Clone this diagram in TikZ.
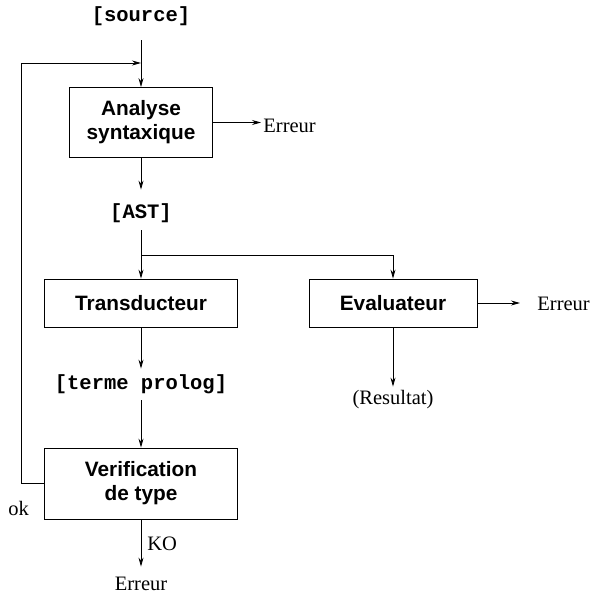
\documentclass[tikz,border=0pt]{standalone}
\usepackage{fontspec}
\setmainfont{Liberation Serif}
\setsansfont{Liberation Sans}
\setmonofont{Liberation Mono}
\usetikzlibrary{arrows.meta}

\begin{document}
\begin{tikzpicture}[x=1pt, y=-1pt, line width=0.8pt,
    >={Stealth[length=9pt, width=5pt, inset=3pt]},
    box/.style={draw, rectangle, inner sep=0pt, align=center, font=\sffamily\bfseries\fontsize{20.8}{24}\selectfont},
    tag/.style={inner sep=0pt, font=\ttfamily\bfseries\fontsize{20.5}{24}\selectfont},
    word/.style={inner sep=0pt, font=\fontsize{20.5}{24}\selectfont}]
    \useasboundingbox (0, 0) rectangle (594, 593);

    \node [tag, text height=12pt, text depth=18pt] (source) at (141, 25) {[source]};
    \node [box, minimum width=143pt, minimum height=70pt] (analyse) at (141, 122.5) {Analyse\\syntaxique};
    \node [word, anchor=base west] (erreurA) at (263, 133) {Erreur};
    \node [tag, text height=29pt, text depth=11pt] (ast) at (141, 210) {[AST]};
    \coordinate (fork) at (141, 255);

    \node [box, minimum width=193pt, minimum height=48pt] (transducteur) at (141, 303) {Transducteur};
    \node [box, minimum width=168pt, minimum height=48pt] (evaluateur) at (393, 303) {Evaluateur};
    \node [word, anchor=base west] (erreurB) at (537, 311) {Erreur};
    \node [tag, text height=20pt, text depth=11pt] (terme) at (141, 384.5) {[terme prolog]};
    \node [word, text height=17pt, text depth=5pt] (resultat) at (393, 398) {(Resultat)};

    \node [box, minimum width=193pt, minimum height=71pt] (verification) at (141, 483.5) {Verification\\de type};
    \node [word, text height=23pt, text depth=0pt] (erreurC) at (141, 578.5) {Erreur};
    \node [word, anchor=base west] (ok) at (8, 515) {ok};
    \node [word, anchor=base west] (ko) at (147, 550) {KO};
    \coordinate (corner) at (21, 63);
    \coordinate (entry) at (141, 63);

    \draw [->] (source) -- (analyse);
    \draw [->, shorten >=2pt] (analyse.east) -- (analyse.east -| erreurA.west);
    \draw [->] (analyse) -- (ast);
    \draw (ast) -- (fork);
    \draw [->] (fork) -- (transducteur);
    \draw [->] (fork) -| (evaluateur);
    \draw [->, shorten >=17pt] (evaluateur.east) -- (evaluateur.east -| erreurB.west);
    \draw [->] (evaluateur) -- (resultat);
    \draw [->] (transducteur) -- (terme);
    \draw [->] (terme) -- (verification);
    \draw [->] (verification) -- (erreurC);
    \draw [->] (verification.west) -| (corner) -- (entry);
\end{tikzpicture}
\end{document}
